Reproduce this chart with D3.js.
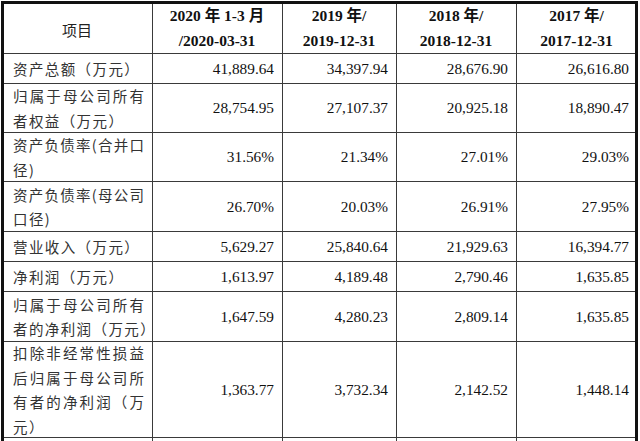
<!DOCTYPE html>
<html>
<head>
<meta charset="utf-8">
<script src="https://cdn.jsdelivr.net/npm/d3@7"></script>
<style>
  html, body { margin: 0; padding: 0; background: #fff; }
  svg { display: block; }
</style>
</head>
<body>
<svg id="table" width="640" height="441"></svg>
<script>
// table content
const headerItem = "项目";
const periods = [
  ["2020 年 1-3 月", "/2020-03-31"],
  ["2019 年/", "2019-12-31"],
  ["2018 年/", "2018-12-31"],
  ["2017 年/", "2017-12-31"]
];
const items = [
  ["资产总额（万元）"],
  ["归属于母公司所有", "者权益（万元）"],
  ["资产负债率(合并口", "径)"],
  ["资产负债率(母公司", "口径)"],
  ["营业收入（万元）"],
  ["净利润（万元）"],
  ["归属于母公司所有", "者的净利润（万元）"],
  ["扣除非经常性损益", "后归属于母公司所", "有者的净利润（万", "元）"]
];
const isPercent = [false, false, true, true, false, false, false, false];
const v2020q1 = [41889.64, 28754.95, 31.56, 26.70, 5629.27, 1613.97, 1647.59, 1363.77];
const v2019 = [34397.94, 27107.37, 21.34, 20.03, 25840.64, 4189.48, 4280.23, 3732.34];
const v2018 = [28676.90, 20925.18, 27.01, 26.91, 21929.63, 2790.46, 2809.14, 2142.52];
const v2017 = [26616.80, 18890.47, 29.03, 27.95, 16394.77, 1635.85, 1635.85, 1448.14];
const series = [v2020q1, v2019, v2018, v2017];

// layout
const svg = d3.select("#table");
const width = +svg.attr("width");
const height = +svg.attr("height");

const colWidths = [150, 130, 114, 120, 121];
const rowHeights = [51, 30, 49, 49, 50, 30, 30, 50, 96];
const x0 = 2, y0 = 2;

const colEdges = [x0, ...d3.cumsum(colWidths).map(d => d + x0)];
const rowEdges = [y0, ...d3.cumsum(rowHeights).map(d => d + y0)];

const x = d3.scaleOrdinal().domain(d3.range(colEdges.length)).range(colEdges);
const y = d3.scaleOrdinal().domain(d3.range(rowEdges.length)).range(rowEdges);

const cnFont = "'Noto Sans CJK SC', sans-serif";
const numFont = "'Liberation Serif', 'Times New Roman', 'Noto Sans CJK SC', serif";
const fmtNum = d3.format(",.2f");
const fmtPct = v => d3.format(".2f")(v) + "%";
const lineH = 24.5;
const labelPad = 11;
const justifyW = 131;   // wrapped lines fill the first column

const g = svg.append("g");

// grid lines
const inner = g.append("g").attr("stroke", "#3a3a3a").attr("stroke-width", 1);
inner.selectAll("line.h")
  .data(d3.range(1, rowEdges.length))
  .join("line")
  .attr("class", "h")
  .attr("x1", x(0)).attr("x2", x(colEdges.length - 1))
  .attr("y1", i => y(i) + 0.5).attr("y2", i => y(i) + 0.5);
inner.selectAll("line.v")
  .data(d3.range(1, colEdges.length - 1))
  .join("line")
  .attr("class", "v")
  .attr("x1", i => x(i) + 0.5).attr("x2", i => x(i) + 0.5)
  .attr("y1", y(0)).attr("y2", height);

// outer border (thick, open at bottom as the table continues)
g.append("path")
  .attr("fill", "none")
  .attr("stroke", "#111")
  .attr("stroke-width", 3)
  .attr("d", `M${x(0) + 0.5},${height} V${y(0) + 0.5} H${x(colEdges.length - 1) - 0.5} V${height}`);

function cellMid(r) { return (y(r) + y(r + 1)) / 2; }

function multiLine(sel, lines, cy, justify) {
  const n = lines.length;
  const t = sel.selectAll("tspan")
    .data(lines)
    .join("tspan")
    .attr("x", sel.attr("x"))
    .attr("y", (d, i) => cy + (i - (n - 1) / 2) * lineH)
    .text(d => d);
  if (justify) {
    t.filter((d, i) => i < n - 1)
      .attr("letter-spacing", 0)
      .attr("textLength", justifyW)
      .attr("lengthAdjust", "spacing");
  }
}

// header
const head = g.append("g");
head.append("text")
  .attr("x", (x(0) + x(1)) / 2)
  .attr("y", cellMid(0) + 2)
  .attr("text-anchor", "middle")
  .attr("dominant-baseline", "central")
  .attr("font-family", cnFont)
  .attr("font-size", 15)
  .attr("fill", "#222")
  .text(headerItem);

head.selectAll("text.period")
  .data(periods)
  .join("text")
  .attr("class", "period")
  .attr("x", (d, i) => (x(i + 1) + x(i + 2)) / 2)
  .attr("text-anchor", "middle")
  .attr("dominant-baseline", "central")
  .attr("font-family", numFont)
  .attr("font-weight", "bold")
  .attr("font-size", 15.5)
  .attr("fill", "#111")
  .each(function(d) { multiLine(d3.select(this), d, cellMid(0), false); });

// item labels
g.selectAll("text.item")
  .data(items)
  .join("text")
  .attr("class", "item")
  .attr("x", x(0) + labelPad)
  .attr("dominant-baseline", "central")
  .attr("font-family", cnFont)
  .attr("font-size", 14.5)
  .attr("letter-spacing", 1.4)
  .attr("fill", "#333")
  .each(function(d, i) { multiLine(d3.select(this), d, cellMid(i + 1), true); });

// values
series.forEach((vals, c) => {
  g.selectAll(`text.val${c}`)
    .data(vals)
    .join("text")
    .attr("class", `val${c}`)
    .attr("x", x(c + 2) - 8)
    .attr("y", (d, i) => cellMid(i + 1))
    .attr("text-anchor", "end")
    .attr("dominant-baseline", "central")
    .attr("font-family", numFont)
    .attr("font-size", 15.3)
    .attr("fill", "#111")
    .text((d, i) => isPercent[i] ? fmtPct(d) : fmtNum(d));
});
</script>
</body>
</html>
